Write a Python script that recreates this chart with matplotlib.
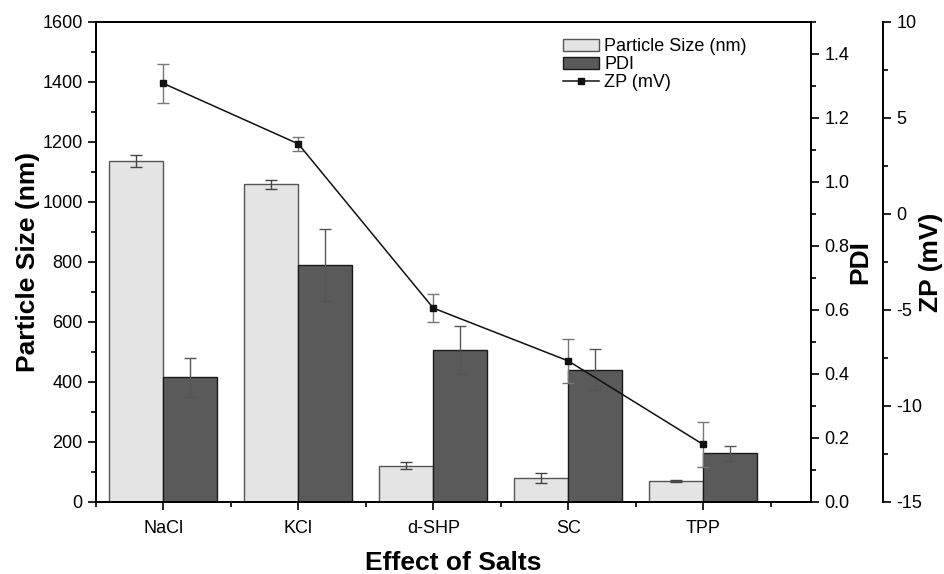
import numpy as np
import matplotlib.pyplot as plt

plt.rcParams['font.family'] = ['Liberation Sans', 'DejaVu Sans']

# данные
salts = ['NaCl', 'KCl', 'd-SHP', 'SC', 'TPP']
size_nm = [1138, 1060, 121, 81, 70]
size_err = [20, 15, 11, 16, 2]
pdi = [0.39, 0.74, 0.475, 0.413, 0.152]
pdi_err = [0.061, 0.113, 0.075, 0.064, 0.024]
zp_mv = [6.8, 3.65, -4.9, -7.65, -12.0]
zp_err = [1.0, 0.35, 0.72, 1.13, 1.19]

x = np.arange(len(salts))
w = 0.4

fig = plt.figure(figsize=(9.44, 5.74), dpi=100)
ax = fig.add_axes([96/944, 1 - 502/574, 715/944, 480/574])
ax2 = ax.twinx()
ax3 = ax.twinx()
ax3.spines['right'].set_position(('axes', (883 - 96) / 715))
for s in ['top', 'left', 'bottom']:
    ax3.spines[s].set_visible(False)

b1 = ax.bar(x - w/2, size_nm, w, yerr=size_err, color='#e4e4e4', edgecolor='#555555',
            linewidth=1, capsize=4, error_kw=dict(ecolor='#444444', elinewidth=1, capthick=1),
            label='Particle Size (nm)')
b2 = ax2.bar(x + w/2, pdi, w, yerr=pdi_err, color='#5a5a5a', edgecolor='#1a1a1a',
             linewidth=1, capsize=4, error_kw=dict(ecolor='#555555', elinewidth=1, capthick=1),
             label='PDI')
ax3.errorbar(x, zp_mv, yerr=zp_err, fmt='none', ecolor='#777777', elinewidth=1,
             capsize=4, capthick=1)
l3, = ax3.plot(x, zp_mv, color='#111111', linewidth=1.1, marker='s', markersize=5,
               label='ZP (mV)')

ax.set_xlim(-0.5, 4.8)
ax.set_ylim(0, 1600)
ax2.set_ylim(0, 1.5)
ax3.set_ylim(-15, 10)

ax.set_xticks(x)
ax.set_xticklabels(salts)
ax.set_xticks(np.arange(-0.5, 5, 1), minor=True)
ax.set_yticks(np.arange(0, 1601, 200))
ax.set_yticks(np.arange(0, 1601, 100), minor=True)
ax2.set_yticks(np.arange(0, 1.41, 0.2))
ax2.set_yticklabels(['%.1f' % v for v in np.arange(0, 1.41, 0.2)])
ax2.set_yticks(np.arange(0, 1.51, 0.1), minor=True)
ax3.set_yticks(np.arange(-15, 11, 5))
ax3.set_yticklabels(['-15', '-10', '-5', '0', '5', '10'])
ax3.set_yticks(np.arange(-15, 11, 2.5), minor=True)

for a in (ax, ax2, ax3):
    a.tick_params(which='major', direction='out', length=6, width=1.2, labelsize=13)
    a.tick_params(which='minor', direction='out', length=3.5, width=1.2)
    for sp in a.spines.values():
        sp.set_linewidth(1.4)
ax.tick_params(axis='x', which='both', top=False)
ax.tick_params(axis='x', which='major', pad=7)

ax.set_xlabel('Effect of Salts', fontsize=19, fontweight='bold', labelpad=10)
ax.set_ylabel('Particle Size (nm)', fontsize=19, fontweight='bold', labelpad=2)
ax2.set_ylabel('PDI', fontsize=19, fontweight='bold', labelpad=-1)
ax3.set_ylabel('ZP (mV)', fontsize=19, fontweight='bold', labelpad=-2)

ax3.legend([b1, b2, l3], ['Particle Size (nm)', 'PDI', 'ZP (mV)'], loc='upper left',
           bbox_to_anchor=(0.63, 1.0), frameon=False, fontsize=13,
           handlelength=2.0, handletextpad=0.3, labelspacing=0.05)

fig.savefig('out.png', dpi=100)
